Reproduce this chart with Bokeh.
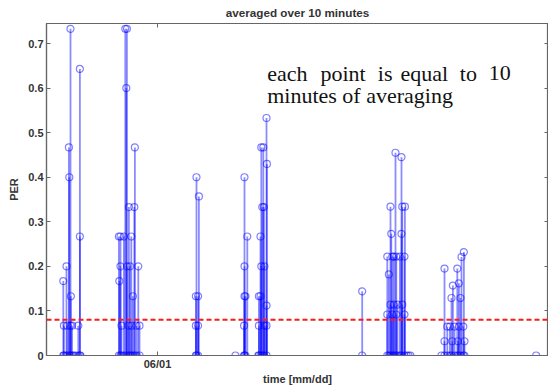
from bokeh.plotting import figure
from bokeh.models import ColumnDataSource, Range1d, FixedTicker, LinearAxis, Span, Label
from bokeh.embed import file_html
from bokeh.resources import INLINE

# time in hours since 05/31 00:00, PER values (each point = 10-minute average)
time_h = [
    19.29, 19.29, 19.32, 19.32, 19.40, 19.45, 19.49, 19.49, 19.57, 19.59, 19.59,
    19.65, 19.65, 19.65, 19.67, 19.73, 19.73, 19.80, 19.90, 20.04, 20.04,
    20.12, 20.12, 20.12, 20.15,
    22.07, 22.07, 22.09, 22.15, 22.15, 22.15, 22.20, 22.20, 22.32, 22.32,
    22.39, 22.44, 22.44, 22.47, 22.47, 22.55, 22.55, 22.57, 22.62, 22.62,
    22.69, 22.70, 22.70, 22.77, 22.77, 22.84, 22.87, 22.87, 22.95, 22.95,
    23.04, 23.10, 23.10,
    25.92, 25.92, 25.92, 25.95, 25.95, 26.03, 26.03, 26.03, 26.07,
    27.90, 28.33, 28.33, 28.35, 28.35, 28.35, 28.35, 28.40, 28.40, 28.49,
    29.04, 29.07, 29.07, 29.07, 29.15, 29.15, 29.15, 29.19, 29.19, 29.24,
    29.24, 29.29, 29.32, 29.32, 29.35, 29.35, 29.45, 29.45, 29.45, 29.45,
    29.47,
    34.235, 34.235,
    35.49, 35.49, 35.49, 35.57, 35.57, 35.65, 35.65, 35.65, 35.69, 35.74,
    35.74, 35.74, 35.82, 35.82, 35.82, 35.90, 35.90, 35.94, 35.94, 36.00,
    36.00, 36.12, 36.12, 36.20, 36.20, 36.20, 36.24, 36.24, 36.35, 36.35,
    36.35, 36.37, 36.45, 36.55, 36.65,
    38.20, 38.35, 38.35, 38.35, 38.49, 38.49, 38.62, 38.62, 38.70, 38.70,
    38.74, 38.77, 38.85, 38.85, 38.99, 38.99, 39.02, 39.07, 39.07, 39.07,
    39.15, 39.15, 39.20, 39.29, 39.29, 39.32, 39.35, 39.35,
    42.935,
]
per = [
    0.167, 0.0, 0.067, 0.0, 0.0, 0.2, 0.067, 0.0, 0.467, 0.4, 0.0,
    0.733, 0.067, 0.0, 0.133, 0.067, 0.0, 0.0, 0.0, 0.067, 0.0,
    0.643, 0.267, 0.0, 0.0,
    0.267, 0.0, 0.167, 0.267, 0.2, 0.0, 0.067, 0.0, 0.267, 0.0,
    0.733, 0.6, 0.0, 0.733, 0.2, 0.067, 0.0, 0.333, 0.2, 0.0,
    0.267, 0.067, 0.0, 0.133, 0.0, 0.333, 0.467, 0.0, 0.067, 0.0,
    0.2, 0.067, 0.0,
    0.133, 0.067, 0.0, 0.4, 0.0, 0.133, 0.067, 0.0, 0.357,
    0.0, 0.067, 0.0, 0.4, 0.2, 0.133, 0.0, 0.133, 0.0, 0.267,
    0.0, 0.133, 0.067, 0.0, 0.267, 0.133, 0.0, 0.467, 0.2, 0.333,
    0.0, 0.467, 0.333, 0.0, 0.2, 0.067, 0.533, 0.112, 0.067, 0.0,
    0.43,
    0.144, 0.0,
    0.222, 0.092, 0.0, 0.182, 0.0, 0.334, 0.114, 0.0, 0.273, 0.222,
    0.092, 0.0, 0.222, 0.114, 0.0, 0.455, 0.0, 0.222, 0.092, 0.114,
    0.0, 0.222, 0.0, 0.445, 0.273, 0.0, 0.334, 0.114, 0.222, 0.092,
    0.0, 0.334, 0.0, 0.0, 0.0,
    0.0, 0.195, 0.032, 0.0, 0.065, 0.0, 0.065, 0.0, 0.129, 0.0,
    0.032, 0.157, 0.065, 0.0, 0.195, 0.0, 0.032, 0.162, 0.065, 0.0,
    0.129, 0.0, 0.221, 0.065, 0.0, 0.232, 0.032, 0.0,
    0.0,
]
threshold = 0.08
y_ticks = [0, 0.1, 0.2, 0.3, 0.4, 0.5, 0.6, 0.7]
y_tick_labels = ["0", "0.1", "0.2", "0.3", "0.4", "0.5", "0.6", "0.7"]
x_ticks = [24]
x_tick_labels = ["06/01"]

src = ColumnDataSource(dict(t=time_h, per=per, base=[0.0] * len(per)))

p = figure(width=548, height=387, output_backend="svg", toolbar_location=None,
           x_range=Range1d(18.45, 43.55), y_range=Range1d(0, 0.745),
           min_border_left=46, min_border_right=0, min_border_top=23,
           min_border_bottom=32, background_fill_color="white",
           border_fill_color="white")
p.xgrid.visible = False
p.ygrid.visible = False
p.outline_line_color = "#666666"
p.outline_line_width = 1.2

p.title.text = "averaged over 10 minutes"
p.title.align = "center"
p.title.vertical_align = "top"
p.title.text_font = "Liberation Sans"
p.title.text_font_size = "11.7px"
p.title.text_font_style = "bold"
p.title.text_color = "#333333"
p.title.standoff = 6

label_font = "Liberation Sans"
for ax in (p.xaxis[0], p.yaxis[0]):
    ax.major_label_text_font = label_font
    ax.major_label_text_font_size = "11px"
    ax.major_label_text_font_style = "bold"
    ax.major_label_text_color = "#333333"
    ax.axis_label_text_font = label_font
    ax.axis_label_text_font_size = "11px"
    ax.axis_label_text_font_style = "bold"
    ax.axis_label_text_color = "#333333"
    ax.axis_line_color = "#666666"
    ax.axis_line_width = 1.2
    ax.major_tick_line_color = "#666666"
    ax.major_tick_in = 4
    ax.major_tick_out = 0
    ax.minor_tick_line_color = None

p.yaxis[0].ticker = FixedTicker(ticks=y_ticks)
p.yaxis[0].major_label_overrides = dict(zip(y_ticks, y_tick_labels))
p.yaxis[0].axis_label = "PER"
p.yaxis[0].major_label_standoff = 3
p.yaxis[0].axis_label_standoff = 5

p.xaxis[0].ticker = FixedTicker(ticks=x_ticks)
p.xaxis[0].major_label_overrides = dict(zip(x_ticks, x_tick_labels))
p.xaxis[0].axis_label = "time [mm/dd]"
p.xaxis[0].major_label_standoff = 2
p.xaxis[0].axis_label_standoff = 0

right_ax = LinearAxis(ticker=FixedTicker(ticks=y_ticks), major_label_text_font_size="1px",
                      major_label_text_color=None,
                      major_label_standoff=0, major_tick_in=4, major_tick_out=0,
                      major_tick_line_color="#666666", axis_line_color="#666666",
                      minor_tick_line_color=None)
p.add_layout(right_ax, "right")
top_ax = LinearAxis(ticker=FixedTicker(ticks=x_ticks), major_label_text_font_size="1px",
                    major_label_text_color=None,
                    major_label_standoff=0, major_tick_in=4, major_tick_out=0,
                    major_tick_line_color="#666666", axis_line_color="#666666",
                    minor_tick_line_color=None)
p.add_layout(top_ax, "above")

p.segment(x0="t", y0="base", x1="t", y1="per", source=src,
          line_color="#0000ff", line_alpha=0.45, line_width=1.8)
p.scatter(x="t", y="per", source=src, marker="circle", size=7,
          fill_color=None, line_color="#0000ff", line_alpha=0.5, line_width=1.2)

p.add_layout(Span(location=threshold, dimension="width", line_color="#ff1a1a",
                  line_dash="5 3", line_width=2))

def px_x(px):
    return 18.45 + (px - 46) * (25.1 / 502)

def px_y(py):
    return (355 - py) * (0.745 / 331.5)

words = ["each", "point", "is", "equal", "to", "10"]
word_px = [266.7, 320, 377.3, 400, 459.3, 488.3]
for w, wx in zip(words, word_px):
    p.add_layout(Label(x=px_x(wx), y=px_y(73), text=w, text_font="Liberation Serif",
                       text_font_size="22px", text_color="#111111",
                       text_baseline="alphabetic", text_align="left"))
p.add_layout(Label(x=px_x(266.7), y=px_y(95), text="minutes of averaging",
                   text_font="Liberation Serif", text_font_size="22px",
                   text_color="#111111", text_baseline="alphabetic", text_align="left"))

open("out.html", "w").write(file_html(p, INLINE))
